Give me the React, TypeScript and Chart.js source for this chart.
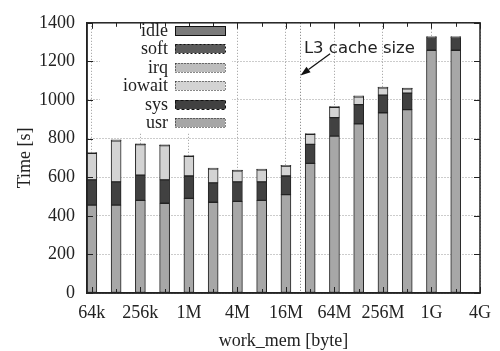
import React, { useEffect, useRef } from 'react';
import { Chart, registerables } from 'chart.js';

Chart.register(...registerables);

// ---- data ----
const categories = ['64k', '128k', '256k', '512k', '1M', '2M', '4M', '8M', '16M', '32M', '64M', '128M', '256M', '512M', '1G', '2G'];
const tickValues = [0, 2, 4, 6, 8, 10, 12, 14, 16];
const tickLabels = ['64k', '256k', '1M', '4M', '16M', '64M', '256M', '1G', '4G'];
const yTicks = [0, 200, 400, 600, 800, 1000, 1200, 1400];

const usr = [455, 455, 480, 465, 490, 470, 475, 480, 510, 672, 813, 876, 934, 950, 1258, 1258];
const sys = [131, 121, 131, 121, 116, 101, 101, 96, 96, 98, 96, 100, 91, 86, 66, 66];
const iowait = [138, 213, 158, 178, 102, 72, 57, 62, 52, 52, 53, 41, 38, 22, 0, 0];
const irq = [1, 1, 1, 1, 1, 1, 1, 1, 1, 1, 1, 1, 1, 1, 1, 1];
const soft = [1, 1, 1, 1, 1, 1, 1, 1, 1, 1, 1, 1, 1, 1, 1, 1];
const idle = [2, 2, 2, 2, 2, 2, 2, 2, 2, 2, 2, 2, 2, 2, 2, 2];

const L3_INDEX = 8.58; // 24MB position on the log2 category axis
const L3_TEXT = 'L3 cache size';

const SERIF = '"Liberation Serif", "Times New Roman", serif';
const SANS = '"DejaVu Sans", sans-serif';

const makeDs = (label: string, values: number[], bg: string, dash: number[]) => ({
  label,
  data: values.map((y, i) => ({ x: i, y })),
  backgroundColor: bg,
  borderColor: '#222',
  borderWidth: 1,
  borderSkipped: false,
  barThickness: 10,
  legendDash: dash,
});

const legendBgPlugin = {
  id: 'legendBg',
  beforeDatasetsDraw(chart: any) {
    const ctx = chart.ctx;
    ctx.save();
    ctx.fillStyle = '#fff';
    ctx.fillRect(100, 21, 132, 112);
    ctx.restore();
  },
};

const decorPlugin = {
  id: 'decor',
  afterDraw(chart: any) {
    const ctx = chart.ctx;
    const { left, right, top, bottom } = chart.chartArea;
    const xs = chart.scales.x;
    const ys = chart.scales.y;
    ctx.save();

    // L3 line
    const lx = Math.round(xs.getPixelForValue(L3_INDEX)) + 0.5;
    ctx.strokeStyle = '#777';
    ctx.lineWidth = 1;
    ctx.setLineDash([1, 2]);
    ctx.beginPath();
    ctx.moveTo(lx, top);
    ctx.lineTo(lx, bottom);
    ctx.stroke();
    ctx.setLineDash([]);

    // text
    ctx.fillStyle = '#222';
    ctx.font = `16.5px ${SANS}`;
    ctx.textAlign = 'left';
    ctx.textBaseline = 'alphabetic';
    ctx.fillText(L3_TEXT, xs.getPixelForValue(8.74), ys.getPixelForValue(1243));

    // arrow
    const tx = xs.getPixelForValue(9.82), ty = ys.getPixelForValue(1240);
    const hx = xs.getPixelForValue(8.6), hy = ys.getPixelForValue(1127);
    const ang = Math.atan2(hy - ty, hx - tx);
    const hl = 10, hw = 3.5;
    const bx = hx - hl * Math.cos(ang), by = hy - hl * Math.sin(ang);
    ctx.strokeStyle = '#111';
    ctx.lineWidth = 1.2;
    ctx.beginPath();
    ctx.moveTo(tx, ty);
    ctx.lineTo(bx, by);
    ctx.stroke();
    ctx.fillStyle = '#111';
    ctx.beginPath();
    ctx.moveTo(hx, hy);
    ctx.lineTo(bx + hw * Math.sin(ang), by - hw * Math.cos(ang));
    ctx.lineTo(bx - hw * Math.sin(ang), by + hw * Math.cos(ang));
    ctx.closePath();
    ctx.fill();

    // frame
    ctx.strokeStyle = '#222';
    ctx.lineWidth = 1.5;
    ctx.strokeRect(left, top, right - left, bottom - top);

    // inward ticks
    ctx.lineWidth = 1;
    ctx.beginPath();
    for (let i = 0; i <= categories.length; i++) {
      const px = Math.round(xs.getPixelForValue(i)) + 0.5;
      const len = i % 2 === 0 ? 6 : 4;
      ctx.moveTo(px, top);
      ctx.lineTo(px, top + len);
      ctx.moveTo(px, bottom);
      ctx.lineTo(px, bottom - len);
    }
    yTicks.forEach((v) => {
      const py = Math.round(ys.getPixelForValue(v)) + 0.5;
      ctx.moveTo(left, py);
      ctx.lineTo(left + 6, py);
      ctx.moveTo(right, py);
      ctx.lineTo(right - 6, py);
    });
    ctx.stroke();

    // legend
    const ds = [...chart.data.datasets].reverse();
    ctx.font = `18px ${SERIF}`;
    ctx.textAlign = 'right';
    ctx.textBaseline = 'middle';
    ds.forEach((d: any, i: number) => {
      const y = 30 + i * 18.5;
      ctx.fillStyle = '#222';
      ctx.fillText(d.label, 168, y + 1);
      ctx.fillStyle = d.backgroundColor;
      ctx.fillRect(175, Math.round(y - 4.5), 50, 9);
      ctx.setLineDash(d.legendDash);
      ctx.strokeStyle = '#111';
      ctx.lineWidth = 1;
      ctx.strokeRect(175.5, Math.round(y - 4.5) + 0.5, 50, 9);
      ctx.setLineDash([]);
    });

    ctx.restore();
  },
};

export default function App() {
  const ref = useRef<HTMLCanvasElement | null>(null);

  useEffect(() => {
    if (!ref.current) return;
    const chart = new Chart(ref.current, {
      type: 'bar',
      data: {
        datasets: [
          makeDs('usr', usr, '#a7a7a7', [1, 2]),
          makeDs('sys', sys, '#414141', [3, 2]),
          makeDs('iowait', iowait, '#d3d3d3', [1, 2]),
          makeDs('irq', irq, '#bdbdbd', [1, 2]),
          makeDs('soft', soft, '#5c5c5c', [2, 2]),
          makeDs('idle', idle, '#7b7b7b', []),
        ] as any,
      },
      options: {
        animation: false,
        responsive: true,
        maintainAspectRatio: false,
        layout: { padding: { top: 16, right: 17, left: 0, bottom: 0 } },
        plugins: { legend: { display: false }, tooltip: { enabled: false } },
        scales: {
          x: {
            type: 'linear',
            stacked: true,
            offset: false,
            min: -0.2,
            max: 16,
            afterBuildTicks: (scale: any) => {
              scale.ticks = tickValues.map((v) => ({ value: v }));
            },
            afterFit: (scale: any) => {
              scale.height = 58;
            },
            ticks: {
              autoSkip: false,
              maxRotation: 0,
              padding: 9,
              color: '#222',
              font: { family: SERIF, size: 18 },
              callback: (v: any) => tickLabels[tickValues.indexOf(Number(v))] ?? '',
            },
            grid: { color: '#999', lineWidth: 1, drawTicks: false, offset: false },
            border: { display: true, color: '#222', width: 1.5, dash: [1, 2] },
            title: {
              display: true,
              text: 'work_mem [byte]',
              color: '#222',
              font: { family: SERIF, size: 18 },
              padding: { top: 0, bottom: -1 },
            },
          },
          y: {
            stacked: true,
            min: 0,
            max: 1400,
            afterBuildTicks: (scale: any) => {
              scale.ticks = yTicks.map((v) => ({ value: v }));
            },
            afterFit: (scale: any) => {
              scale.width = 87;
            },
            ticks: {
              padding: 12,
              color: '#222',
              font: { family: SERIF, size: 18 },
              callback: (v: any) => String(v),
            },
            grid: { color: '#999', lineWidth: 1, drawTicks: false },
            border: { display: true, color: '#222', width: 1.5, dash: [1, 2] },
            title: {
              display: true,
              text: 'Time [s]',
              color: '#222',
              font: { family: SERIF, size: 18 },
              padding: { top: 14, bottom: 0 },
            },
          },
        },
      },
      plugins: [legendBgPlugin, decorPlugin],
    });
    return () => chart.destroy();
  }, []);

  return (
    <div style={{ position: 'absolute', left: 0, top: 0, width: 500, height: 351, background: '#fff' }}>
      <canvas ref={ref} />
    </div>
  );
}
